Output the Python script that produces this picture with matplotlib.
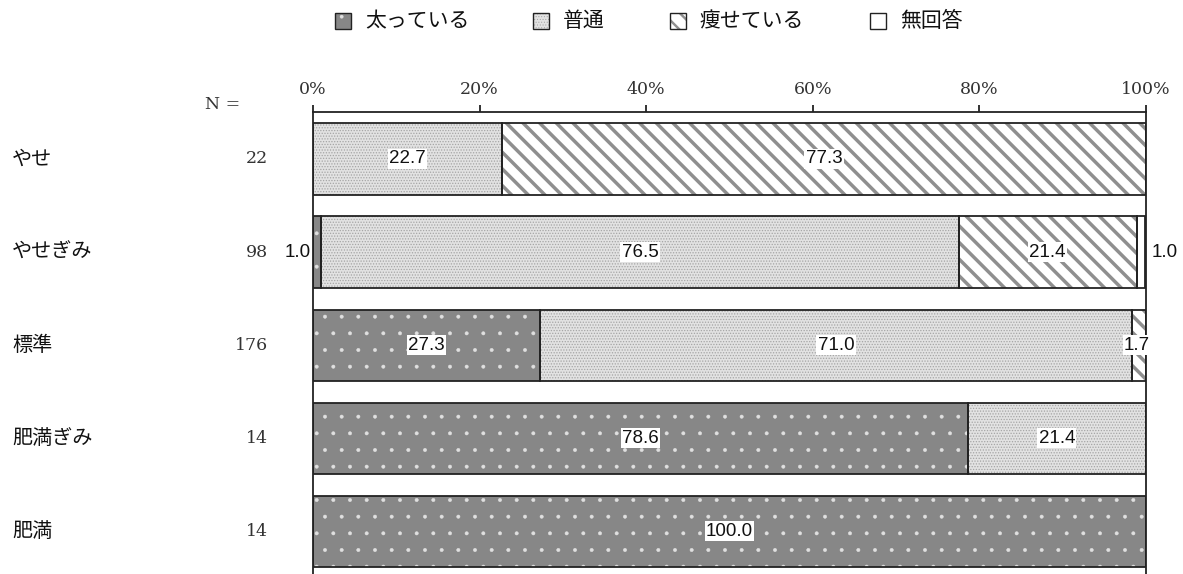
import matplotlib
matplotlib.use("Agg")
import matplotlib.pyplot as plt
from matplotlib.patches import Rectangle
from matplotlib.transforms import blended_transform_factory
import numpy as np

categories = ["やせ", "やせぎみ", "標準", "肥満ぎみ", "肥満"]
n_values = [22, 98, 176, 14, 14]
series_names = ["太っている", "普通", "痩せている", "無回答"]
futoteiru = [0.0, 1.0, 27.3, 78.6, 100.0]
futsuu = [22.7, 76.5, 71.0, 21.4, 0.0]
yaseteiru = [77.3, 21.4, 1.7, 0.0, 0.0]
mukaitou = [0.0, 1.0, 0.0, 0.0, 0.0]
xticks = [0, 20, 40, 60, 80, 100]
xticklabels = ["0%", "20%", "40%", "60%", "80%", "100%"]

series = [futoteiru, futsuu, yaseteiru, mukaitou]
styles = [
    dict(facecolor="#878787", hatch=".", hcolor="#e0e0e0", hlw=0.35),
    dict(facecolor="#e2e2e2", hatch="......", hcolor="#a5a5a5", hlw=0.6),
    dict(facecolor="#ffffff", hatch="\\\\", hcolor="#8f8f8f", hlw=2.5),
    dict(facecolor="#ffffff", hatch=None, hcolor="#ffffff", hlw=1.0),
]

W, H = 1183, 574
fig = plt.figure(figsize=(W / 100, H / 100), dpi=100)
ax = fig.add_axes([313 / W, 0, (1146 - 313) / W, 1 - 112 / H])

jp = ["Noto Sans CJK JP", "DejaVu Sans"]
serif = ["DejaVu Serif"]
num = ["Liberation Sans", "DejaVu Sans"]

ypos = np.arange(len(categories))
bh = 0.765
left = np.zeros(len(categories))
for vals, st in zip(series, styles):
    vals = np.array(vals)
    plt.rcParams["hatch.linewidth"] = st["hlw"]
    ax.barh(ypos, vals, left=left, height=bh, color=st["facecolor"],
            edgecolor=st["hcolor"], hatch=st["hatch"], linewidth=0, zorder=2)
    ax.barh(ypos, vals, left=left, height=bh, fill=False,
            edgecolor="#222222", linewidth=1.3, zorder=3)
    left += vals

# value labels
box = dict(facecolor="white", edgecolor="none", pad=1.0)
for i in range(len(categories)):
    start = 0.0
    for k, vals in enumerate(series):
        v = vals[i]
        if v > 0:
            ha = "center"
            x = start + v / 2
            if v < 3:
                if start == 0:
                    x, ha = -0.3, "right"
                elif k == 3:
                    x, ha = 100.7, "left"
                else:
                    x, ha = 100.5, "right"
            ax.text(x, i, f"{v:.1f}", ha=ha, va="center", fontsize=13.5,
                    family=num, bbox=box, zorder=5, clip_on=False, color="#111111")
        start += v

ax.set_xlim(0, 100)
ax.set_ylim(4.46, -0.505)
ax.xaxis.tick_top()
ax.set_xticks(xticks)
ax.set_xticklabels(xticklabels, family=serif, fontsize=12.5, color="#333333")
ax.tick_params(axis="x", direction="out", length=5, width=1.3, pad=5, color="#222222")
ax.set_yticks([])
for s in ["left", "right", "top"]:
    ax.spines[s].set_linewidth(1.3)
    ax.spines[s].set_color("#222222")
ax.spines["bottom"].set_visible(False)

# category and N labels
trans = blended_transform_factory(fig.transFigure, ax.transData)
for i, (cat, n) in enumerate(zip(categories, n_values)):
    ax.text(12 / W, i, cat, ha="left", va="center", fontsize=14.5,
            family=jp, transform=trans, clip_on=False, color="#111111")
    ax.text(268 / W, i, str(n), ha="right", va="center", fontsize=12.5,
            family=serif, transform=trans, clip_on=False, color="#333333")
fig.text(205 / W, 1 - 105 / H, "N =", ha="left", va="center", fontsize=12.5,
         family=serif, color="#333333")

# legend
leg_x = [335, 533, 670, 870]
sq = 16
for lx, name, st in zip(leg_x, series_names, styles):
    plt.rcParams["hatch.linewidth"] = st["hlw"] * 0.7
    r = Rectangle((lx / W, 1 - (21 + sq / 2) / H), sq / W, sq / H, transform=fig.transFigure,
                  facecolor=st["facecolor"], edgecolor=st["hcolor"], hatch=st["hatch"], linewidth=0)
    fig.add_artist(r)
    r2 = Rectangle((lx / W, 1 - (21 + sq / 2) / H), sq / W, sq / H, transform=fig.transFigure,
                   fill=False, edgecolor="#222222", linewidth=1.0)
    fig.add_artist(r2)
    fig.text((lx + sq + 14) / W, 1 - 21 / H, name, ha="left", va="center",
             fontsize=15, family=jp, color="#111111")

fig.savefig("out.png", dpi=100)
